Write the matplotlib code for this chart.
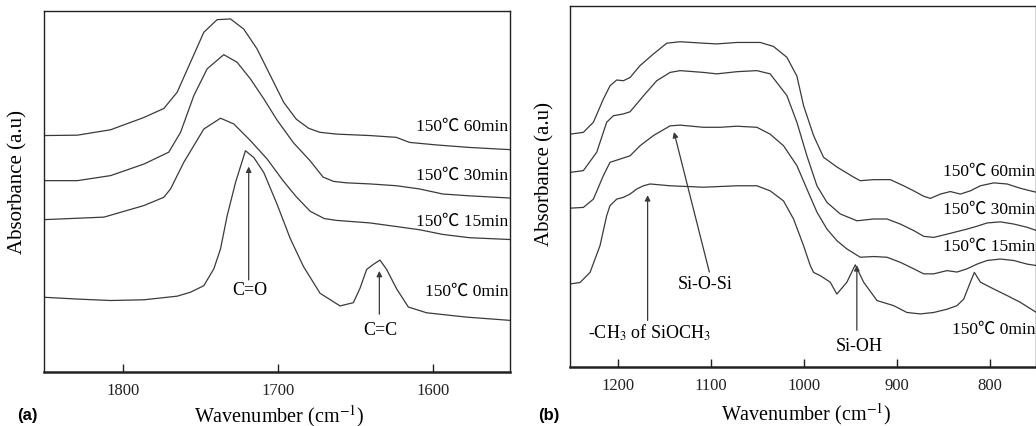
import numpy as np
import matplotlib
matplotlib.use("Agg")
import matplotlib.pyplot as plt

plt.rcParams['font.family'] = ['Liberation Serif', 'Noto Sans CJK SC']
plt.rcParams['mathtext.fontset'] = 'stix'

# (a) vung C=O / C=C
wn_a_60 = [1851, 1829.5, 1808.0, 1786.5, 1773.6, 1765.0, 1756.4, 1747.8, 1739.2, 1730.6, 1722.0, 1713.4,
           1704.8, 1696.2, 1688.0, 1680.0, 1672.9, 1662.2, 1640.7, 1623.5, 1614.9, 1597.6, 1576.2, 1550.4]
ab_a_60 = [0.655, 0.656, 0.671, 0.705, 0.730, 0.775, 0.858, 0.941, 0.976, 0.978, 0.950, 0.895,
           0.821, 0.747, 0.700, 0.675, 0.664, 0.659, 0.655, 0.650, 0.636, 0.629, 0.622, 0.616]

wn_a_30 = [1851, 1829.5, 1808.0, 1786.5, 1770.4, 1762.8, 1754.2, 1745.6, 1734.9, 1726.3, 1717.7, 1709.1,
           1700.5, 1689.9, 1679.1, 1670.8, 1664.0, 1655.7, 1640.7, 1623.5, 1608.4, 1593.4, 1576.2, 1550.4]
ab_a_30 = [0.530, 0.530, 0.544, 0.576, 0.609, 0.664, 0.766, 0.840, 0.879, 0.858, 0.812, 0.757,
           0.698, 0.635, 0.585, 0.540, 0.528, 0.524, 0.521, 0.516, 0.507, 0.493, 0.488, 0.482]

wn_a_15 = [1851, 1812.3, 1786.5, 1773.6, 1769.3, 1760.7, 1747.8, 1737.0, 1728.4, 1717.7, 1706.9, 1696.6,
           1688.0, 1679.0, 1670.0, 1662.2, 1640.7, 1623.5, 1608.4, 1593.4, 1576.2, 1550.4]
ab_a_15 = [0.422, 0.429, 0.461, 0.484, 0.507, 0.581, 0.673, 0.703, 0.687, 0.641, 0.590, 0.530,
           0.485, 0.445, 0.425, 0.420, 0.413, 0.403, 0.394, 0.381, 0.372, 0.367]

wn_a_0 = [1851, 1829.5, 1808.0, 1786.5, 1765.0, 1756.4, 1747.8, 1741.3, 1737.0, 1732.7, 1727.3, 1720.9,
          1715.5, 1709.1, 1700.5, 1692.0, 1683.4, 1672.7, 1659.8, 1651.2, 1646.9, 1642.6, 1638.3, 1634.0,
          1629.7, 1623.2, 1615.7, 1603.9, 1578.1, 1550.1]
ab_a_0 = [0.207, 0.202, 0.198, 0.200, 0.210, 0.221, 0.239, 0.286, 0.341, 0.433, 0.525, 0.613,
          0.594, 0.553, 0.465, 0.370, 0.292, 0.218, 0.183, 0.192, 0.232, 0.284, 0.298, 0.310,
          0.284, 0.230, 0.180, 0.164, 0.152, 0.143]

# (b) vung Si-O-Si
wn_b_60 = [1252, 1237.6, 1226.8, 1216.1, 1208.9, 1201.7, 1194.5, 1187.3, 1176.5, 1162.2, 1147.8, 1133.4,
           1108.2, 1093.9, 1072.3, 1047.1, 1032.8, 1018.4, 1007.6, 1000.4, 989.6, 978.9, 964.5, 946.5,
           939.3, 924.9, 907.0, 892.6, 881.8, 871.0, 863.8, 853.0, 842.3, 831.5, 820.7, 809.9, 795.5,
           781.2, 766.8, 756.0, 749.5]
ab_b_60 = [0.645, 0.650, 0.678, 0.742, 0.779, 0.795, 0.793, 0.802, 0.835, 0.867, 0.897, 0.901,
           0.897, 0.895, 0.899, 0.899, 0.888, 0.858, 0.806, 0.724, 0.641, 0.581, 0.554, 0.526,
           0.516, 0.519, 0.519, 0.502, 0.488, 0.473, 0.467, 0.479, 0.486, 0.479, 0.488, 0.502, 0.510,
           0.507, 0.495, 0.488, 0.484]

wn_b_30 = [1252, 1237.6, 1223.2, 1212.5, 1205.3, 1194.5, 1187.3, 1172.9, 1158.6, 1144.2, 1133.4, 1108.2,
           1093.9, 1072.3, 1050.7, 1036.4, 1018.4, 1007.6, 996.8, 986.0, 975.2, 960.9, 942.9, 924.9,
           910.5, 896.2, 881.8, 871.0, 860.2, 845.9, 835.1, 824.3, 813.5, 802.7, 788.4, 774.0, 759.6, 749.5]
ab_b_30 = [0.539, 0.544, 0.595, 0.678, 0.696, 0.701, 0.707, 0.751, 0.793, 0.816, 0.821, 0.816,
           0.812, 0.818, 0.821, 0.812, 0.752, 0.678, 0.585, 0.502, 0.456, 0.424, 0.405, 0.410,
           0.410, 0.396, 0.378, 0.362, 0.359, 0.368, 0.375, 0.382, 0.390, 0.399, 0.402, 0.396, 0.387, 0.378]

wn_b_15 = [1252, 1237.6, 1226.8, 1216.1, 1208.9, 1198.1, 1187.3, 1176.5, 1162.2, 1144.2, 1133.4, 1108.2,
           1090.3, 1072.3, 1050.7, 1036.4, 1022.0, 1007.6, 996.8, 986.0, 975.2, 964.5, 953.7, 939.3,
           924.9, 910.5, 896.2, 881.8, 871.0, 860.2, 845.9, 835.1, 824.3, 813.5, 802.7, 788.4, 774.0,
           759.6, 749.5]
ab_b_15 = [0.440, 0.442, 0.465, 0.530, 0.567, 0.576, 0.585, 0.613, 0.641, 0.668, 0.670, 0.664,
           0.664, 0.667, 0.664, 0.645, 0.613, 0.558, 0.493, 0.429, 0.382, 0.350, 0.327, 0.304,
           0.306, 0.304, 0.290, 0.272, 0.258, 0.258, 0.267, 0.263, 0.272, 0.285, 0.295, 0.299, 0.295,
           0.285, 0.281]

wn_b_0 = [1252, 1241.2, 1230.4, 1219.7, 1212.5, 1208.9, 1201.7, 1194.5, 1187.3, 1180.1, 1172.9, 1165.7,
          1144.2, 1108.2, 1072.3, 1050.7, 1036.4, 1022.0, 1011.2, 1000.4, 993.2, 989.6, 982.4, 971.7,
          964.5, 953.7, 944.7, 935.7, 921.3, 903.4, 889.0, 874.6, 860.2, 845.9, 835.1, 827.9, 820.7,
          816.4, 809.9, 795.5, 781.2, 766.8, 749.5]
ab_b_0 = [0.230, 0.234, 0.262, 0.336, 0.419, 0.447, 0.465, 0.470, 0.479, 0.493, 0.502, 0.507,
          0.502, 0.498, 0.502, 0.502, 0.488, 0.460, 0.410, 0.336, 0.281, 0.262, 0.253, 0.235,
          0.202, 0.235, 0.283, 0.235, 0.184, 0.170, 0.151, 0.147, 0.151, 0.160, 0.170, 0.188, 0.235,
          0.262, 0.235, 0.216, 0.198, 0.179, 0.151]

nhan = ["150℃ 60min", "150℃ 30min", "150℃ 15min", "150℃ 0min"]
nhan_a_y = [0.682, 0.546, 0.418, 0.224]
nhan_b_y = [0.544, 0.438, 0.336, 0.106]

fig = plt.figure(figsize=(10.36, 4.27), dpi=100)
ax1 = fig.add_axes([0.0425, 0.1265, 0.4498, 0.8454])
ax2 = fig.add_axes([0.5502, 0.1382, 0.4498, 0.8454])

mau = "#3a3a3a"
for x, y in [(wn_a_60, ab_a_60), (wn_a_30, ab_a_30), (wn_a_15, ab_a_15), (wn_a_0, ab_a_0)]:
    ax1.plot(x, y, color=mau, lw=0.9)
for x, y in [(wn_b_60, ab_b_60), (wn_b_30, ab_b_30), (wn_b_15, ab_b_15), (wn_b_0, ab_b_0)]:
    ax2.plot(x, y, color=mau, lw=0.9)

ax1.set_xlim(1851, 1550)
ax2.set_xlim(1252, 750)
ax1.set_xticks([1800, 1700, 1600])
ax2.set_xticks([1200, 1100, 1000, 900, 800])

for ax in (ax1, ax2):
    ax.set_ylim(0, 1.0)
    ax.set_yticks([])
    ax.tick_params(axis='x', direction='in', length=6, width=1, pad=7, labelsize=12, colors='#222222')
    for s in ax.spines.values():
        s.set_linewidth(1.0)
        s.set_color('#222222')
    ax.spines['bottom'].set_linewidth(1.8)
    ax.set_xlabel("Wavenumber (cm$^{-1}$)", fontsize=14.5)
    ax.set_ylabel("Absorbance (a.u)", fontsize=15)

ax1.xaxis.set_label_coords(0.504, -0.082)
ax2.xaxis.set_label_coords(0.507, -0.092)
ax1.yaxis.set_label_coords(-0.036, 0.53)
ax2.yaxis.set_label_coords(-0.034, 0.537)

for t, yy in zip(nhan, nhan_a_y):
    ax1.text(1551, yy, t, ha='right', va='center', fontsize=12.5)
for t, yy in zip(nhan, nhan_b_y):
    ax2.text(751, yy, t, ha='right', va='center', fontsize=12.5)

mui = dict(arrowstyle='-|>', color=mau, lw=0.9, mutation_scale=8, shrinkA=0, shrinkB=0)
ax1.annotate("", xy=(1718.8, 0.569), xytext=(1718.8, 0.255), arrowprops=mui)
ax1.text(1718, 0.228, "C=O", ha='center', va='center', fontsize=13)
ax1.annotate("", xy=(1634.4, 0.280), xytext=(1634.4, 0.160), arrowprops=mui)
ax1.text(1634, 0.118, "C=C", ha='center', va='center', fontsize=13)

ax2.annotate("", xy=(1140.0, 0.651), xytext=(1101.9, 0.263), arrowprops=mui)
ax2.text(1106.6, 0.231, "Si-O-Si", ha='center', va='center', fontsize=13)
ax2.annotate("", xy=(1168.4, 0.476), xytext=(1168.4, 0.129), arrowprops=mui)
ax2.text(1165.9, 0.097, "-CH$_3$ of SiOCH$_3$", ha='center', va='center', fontsize=13)
ax2.annotate("", xy=(943.0, 0.282), xytext=(943.0, 0.102), arrowprops=mui)
ax2.text(940.2, 0.060, "Si-OH", ha='center', va='center', fontsize=13)

fig.text(0.0165, 0.028, "(a)", fontweight='bold', family='Liberation Sans', fontsize=12, va='center')
fig.text(0.519, 0.028, "(b)", fontweight='bold', family='Liberation Sans', fontsize=12, va='center')

fig.savefig("out.png", dpi=100)
